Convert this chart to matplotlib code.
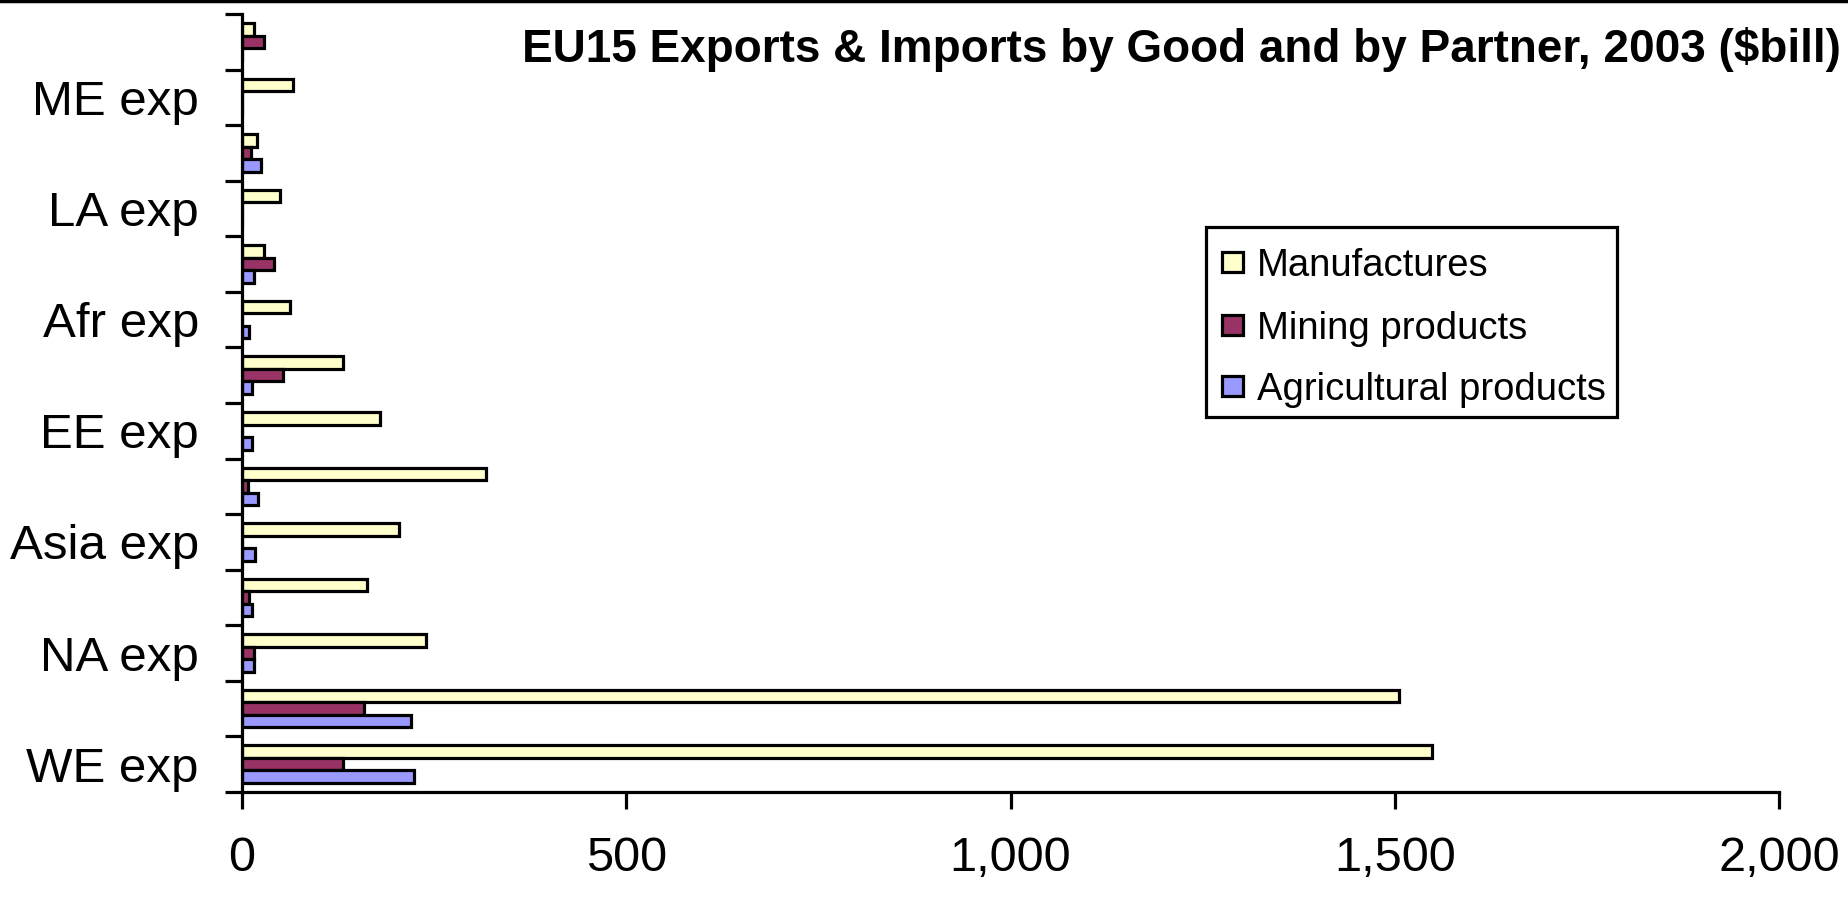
import matplotlib
matplotlib.use("Agg")
import matplotlib.pyplot as plt
from matplotlib.lines import Line2D
from matplotlib.patches import Rectangle
import numpy as np

plt.rcParams["font.family"] = ["Liberation Sans", "DejaVu Sans"]

# categories bottom -> top
categories = ["WE exp", "WE imp", "NA exp", "NA imp", "Asia exp", "Asia imp",
              "EE exp", "EE imp", "Afr exp", "Afr imp", "LA exp", "LA imp",
              "ME exp", "ME imp"]
manufactures = [1549, 1505, 240, 163, 204, 318, 180, 131, 62, 28, 49, 20, 66, 16]
mining = [131, 159, 16, 9, 0, 8, 0, 54, 0, 41, 0, 12, 0, 29]
agricultural = [224, 220, 16, 13, 17, 21, 13, 13, 9, 16, 0, 25, 0, 0]

series_names = ["Manufactures", "Mining products", "Agricultural products"]
series_colors = ["#FFFFCC", "#993366", "#9999FF"]
TITLE = "EU15 Exports & Imports by Good and by Partner, 2003 ($bill)"

W, H = 1848, 901
LW = 2.3
BAR_H = 0.225

fig = plt.figure(figsize=(W / 100, H / 100), dpi=100)
ax = fig.add_axes([242 / W, 1 - 792 / H, (1779 - 242) / W, (792 - 14) / H])

y = np.arange(len(categories))
for offset, vals, color in zip([BAR_H, 0, -BAR_H],
                               [manufactures, mining, agricultural], series_colors):
    ax.barh(y + offset, vals, height=BAR_H, color=color, edgecolor="black",
            linewidth=LW, zorder=2)

ax.set_xlim(0, 2000)
ax.set_ylim(-0.5, len(categories) - 0.5)

ax.set_xticks([0, 500, 1000, 1500, 2000])
ax.set_xticklabels([f"{v:,}" for v in [0, 500, 1000, 1500, 2000]])
ax.tick_params(axis="x", length=12, width=LW, pad=20, labelsize=35)

# ticks on category boundaries, labels only for export categories
ax.set_yticks(np.arange(-0.5, len(categories), 1.0))
ax.set_yticklabels([])
ax.tick_params(axis="y", which="major", length=12, width=LW)
exp_idx = [i for i, c in enumerate(categories) if c.endswith("exp")]
ax.set_yticks(exp_idx, [categories[i] for i in exp_idx], minor=True)
ax.tick_params(axis="y", which="minor", length=0, pad=31, labelsize=35.5)

for s in ["top", "right"]:
    ax.spines[s].set_visible(False)
for s in ["left", "bottom"]:
    ax.spines[s].set_linewidth(LW)
    ax.spines[s].set_zorder(3)

fig.text(1841 / W, 1 - 49 / H, TITLE, ha="right", va="center",
         fontsize=33, fontweight="bold")

# legend box, drawn in figure pixels
fig.add_artist(Rectangle((1206 / W, 1 - 417 / H), (1617 - 1206) / W, (417 - 227) / H,
                         facecolor="white", edgecolor="black", linewidth=LW,
                         transform=fig.transFigure))
for row_y, name, color in zip([262, 325, 386], series_names, series_colors):
    fig.add_artist(Rectangle((1222 / W, 1 - (row_y + 10) / H), 21 / W, 20 / H,
                             facecolor=color, edgecolor="black", linewidth=LW,
                             transform=fig.transFigure))
    fig.text(1257 / W, 1 - row_y / H, name, ha="left", va="center_baseline",
             fontsize=27.5)

# rule along the top edge
fig.add_artist(Line2D([0, 1], [0.999, 0.999], color="black", linewidth=2.5,
                      transform=fig.transFigure))

fig.savefig("out.png", dpi=100)
